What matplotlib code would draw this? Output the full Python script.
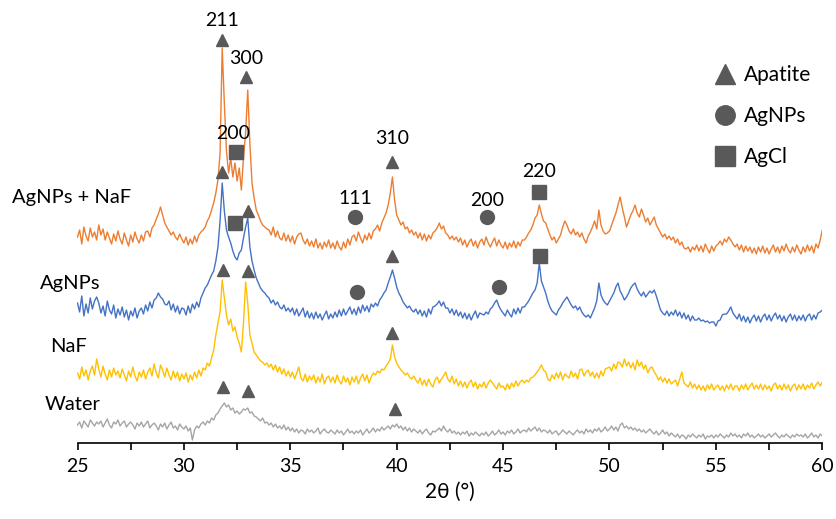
import numpy as np
import matplotlib.pyplot as plt
from matplotlib.lines import Line2D
from matplotlib.ticker import MultipleLocator

plt.rcParams['font.family'] = ['Lato', 'DejaVu Sans']

# 2theta grid, 25..60 deg, 0.1 step
two_theta = np.linspace(25, 60, 351)

# stacked intensities (a.u., offset), one row per degree
water = [
    18, 21, 15, 22, 19, 16, 23, 20, 17, 21,
    19, 22, 16, 20, 24, 18, 15, 21, 19, 23,
    17, 20, 22, 16, 19, 21, 18, 14, 20, 17,
    21, 16, 19, 22, 15, 18, 20, 17, 13, 19,
    16, 20, 14, 18, 21, 15, 17, 13, 19, 16,
    14, 17, 12, 15, 3, 13, 17, 15, 19, 21,
    18, 22, 20, 25, 23, 28, 30, 34, 37, 40,
    36, 38, 33, 35, 30, 32, 29, 31, 34, 33,
    35, 30, 31, 27, 26, 24, 22, 25, 20, 21,
    18, 20, 16, 19, 15, 17, 14, 18, 13, 16,
    12, 15, 11, 14, 10, 13, 12, 9, 14, 11,
    13, 10, 12, 15, 9, 12, 14, 11, 10, 13,
    11, 9, 13, 10, 12, 8, 11, 14, 10, 12,
    9, 12, 10, 13, 8, 11, 14, 10, 12, 15,
    11, 14, 12, 16, 13, 15, 17, 14, 18, 16,
    19, 15, 17, 13, 16, 12, 15, 11, 14, 12,
    10, 13, 9, 12, 14, 10, 8, 12, 11, 13,
    15, 12, 17, 13, 11, 14, 10, 12, 9, 11,
    8, 11, 9, 12, 7, 10, 8, 11, 9, 7,
    10, 8, 11, 7, 9, 12, 8, 10, 13, 9,
    11, 8, 12, 10, 13, 9, 11, 14, 10, 12,
    13, 11, 15, 12, 14, 16, 12, 15, 11, 13,
    12, 10, 13, 9, 11, 12, 8, 10, 13, 11,
    9, 12, 10, 8, 11, 13, 10, 12, 9, 14,
    11, 13, 10, 14, 12, 15, 11, 13, 16, 12,
    14, 17, 13, 16, 12, 18, 20, 15, 17, 14,
    16, 13, 15, 12, 14, 11, 13, 10, 12, 14,
    11, 9, 12, 8, 10, 13, 9, 11, 7, 10,
    8, 6, 9, 5, 8, 7, 4, 8, 6, 9,
    7, 5, 8, 6, 9, 4, 7, 6, 8, 5,
    8, 6, 9, 7, 5, 8, 6, 10, 7, 9,
    6, 8, 5, 9, 7, 10, 6, 8, 5, 7,
    9, 6, 8, 5, 7, 9, 6, 8, 10, 7,
    5, 8, 6, 9, 7, 5, 8, 6, 9, 7,
    8, 6, 9, 5, 7, 10, 6, 8, 5, 9,
    7,
]

naf = [
    70, 64, 76, 67, 73, 63, 72, 77, 68, 84,
    74, 66, 77, 69, 63, 73, 66, 75, 68, 72,
    65, 74, 68, 62, 72, 66, 76, 67, 62, 71,
    66, 73, 64, 71, 75, 67, 79, 70, 65, 78,
    73, 66, 75, 68, 63, 72, 65, 71, 62, 69,
    64, 70, 61, 68, 63, 71, 65, 73, 67, 75,
    73, 80, 77, 85, 93, 108, 120, 131, 163, 145,
    128, 118, 124, 112, 116, 106, 100, 91, 120, 161,
    140, 108, 100, 91, 88, 85, 82, 81, 78, 80,
    76, 79, 73, 78, 71, 76, 69, 74, 67, 72,
    66, 71, 64, 70, 76, 65, 62, 69, 61, 67,
    63, 68, 60, 66, 61, 69, 59, 65, 67, 61,
    66, 60, 68, 62, 59, 67, 61, 65, 58, 66,
    61, 67, 59, 65, 69, 62, 68, 60, 66, 70,
    68, 72, 70, 74, 73, 77, 80, 84, 98, 86,
    80, 76, 73, 71, 68, 70, 66, 64, 67, 63,
    60, 65, 58, 63, 57, 64, 59, 56, 63, 66,
    60, 64, 67, 71, 64, 61, 67, 59, 64, 57,
    62, 56, 61, 55, 60, 63, 56, 61, 54, 59,
    56, 61, 55, 60, 63, 60, 57, 54, 60, 56,
    57, 53, 59, 54, 60, 56, 62, 57, 61, 63,
    60, 63, 61, 65, 66, 68, 71, 74, 78, 73,
    71, 64, 62, 68, 64, 70, 65, 71, 63, 69,
    67, 65, 72, 66, 70, 64, 73, 74, 67, 71,
    73, 67, 71, 65, 70, 65, 72, 67, 74, 75,
    76, 72, 79, 74, 81, 80, 76, 84, 77, 81,
    75, 80, 73, 83, 77, 81, 74, 78, 70, 75,
    76, 71, 68, 63, 66, 61, 65, 60, 64, 59,
    61, 63, 57, 64, 71, 60, 58, 56, 61, 55,
    59, 54, 58, 53, 57, 52, 58, 54, 59, 53,
    56, 58, 53, 57, 52, 58, 54, 59, 53, 57,
    57, 52, 58, 54, 59, 53, 57, 60, 54, 58,
    54, 59, 53, 58, 54, 57, 52, 58, 60, 54,
    58, 53, 59, 54, 58, 52, 57, 59, 53, 58,
    54, 59, 53, 58, 55, 60, 54, 58, 61, 57,
    61,
]

agnps = [
    140, 131, 147, 127, 139, 130, 145, 134, 142, 146,
    140, 130, 137, 127, 142, 133, 129, 138, 125, 134,
    128, 136, 126, 133, 123, 132, 127, 135, 125, 132,
    135, 129, 138, 132, 141, 135, 143, 145, 150, 146,
    144, 139, 138, 142, 133, 139, 131, 137, 129, 135,
    134, 128, 137, 130, 139, 134, 141, 136, 145, 150,
    155, 158, 163, 168, 172, 182, 196, 222, 260, 232,
    213, 206, 200, 192, 186, 183, 190, 193, 205, 216,
    225, 196, 182, 173, 165, 160, 155, 152, 150, 147,
    145, 140, 143, 138, 141, 136, 134, 138, 132, 135,
    131, 135, 128, 134, 127, 131, 135, 126, 132, 125,
    130, 124, 131, 125, 129, 123, 128, 132, 124, 129,
    125, 131, 126, 133, 127, 134, 128, 132, 136, 129,
    134, 128, 136, 130, 138, 132, 137, 131, 139, 136,
    140, 137, 143, 146, 150, 153, 160, 166, 173, 165,
    156, 150, 146, 141, 138, 135, 137, 133, 131, 134,
    129, 133, 127, 132, 126, 134, 129, 136, 137, 139,
    142, 137, 141, 135, 135, 130, 134, 128, 133, 127,
    131, 125, 130, 124, 129, 123, 128, 132, 125, 130,
    129, 128, 131, 129, 134, 136, 140, 143, 137, 133,
    130, 127, 133, 129, 126, 134, 129, 135, 130, 136,
    136, 139, 142, 146, 150, 153, 160, 180, 162, 156,
    150, 142, 136, 132, 130, 128, 133, 136, 140, 143,
    146, 142, 138, 135, 137, 133, 136, 131, 128, 126,
    128, 125, 130, 135, 142, 160, 148, 143, 140, 138,
    142, 146, 150, 156, 160, 152, 148, 143, 146, 150,
    155, 158, 160, 154, 150, 147, 151, 146, 149, 152,
    150, 153, 147, 140, 133, 130, 128, 132, 127, 131,
    128, 133, 127, 131, 125, 130, 124, 128, 122, 127,
    123, 123, 125, 122, 123, 121, 122, 120, 121, 121,
    117, 122, 123, 128, 129, 129, 132, 136, 130, 127,
    124, 129, 122, 127, 121, 126, 120, 125, 128, 122,
    127, 121, 126, 129, 123, 128, 122, 127, 130, 124,
    128, 122, 127, 121, 126, 129, 123, 128, 122, 127,
    123, 128, 122, 127, 129, 123, 128, 124, 130, 131,
    133,
]

agnps_naf = [
    206, 213, 199, 216, 207, 202, 215, 206, 211, 203,
    218, 208, 214, 203, 211, 205, 199, 209, 202, 212,
    204, 199, 210, 203, 197, 208, 201, 211, 204, 200,
    208, 202, 211, 212, 206, 215, 218, 224, 229, 236,
    228, 220, 216, 212, 208, 211, 206, 203, 209, 204,
    200, 206, 198, 204, 199, 207, 201, 208, 211, 213,
    216, 222, 226, 233, 240, 250, 263, 290, 395, 340,
    292, 270, 285, 266, 280, 262, 275, 253, 285, 310,
    353, 300, 260, 245, 233, 228, 222, 218, 216, 214,
    213, 208, 216, 206, 212, 205, 203, 210, 202, 208,
    201, 207, 199, 206, 209, 210, 203, 199, 204, 197,
    202, 196, 204, 195, 200, 194, 201, 196, 203, 195,
    200, 194, 202, 196, 193, 201, 195, 204, 198, 206,
    208, 202, 211, 205, 200, 208, 203, 210, 204, 212,
    214, 218, 212, 220, 225, 230, 238, 250, 266, 243,
    228, 223, 218, 221, 214, 216, 210, 213, 208, 211,
    205, 210, 203, 209, 202, 208, 204, 210, 212, 215,
    220, 214, 217, 210, 208, 204, 207, 203, 206, 201,
    205, 198, 203, 196, 201, 204, 197, 202, 195, 201,
    204, 198, 206, 200, 196, 201, 205, 197, 203, 198,
    195, 201, 194, 200, 196, 202, 195, 201, 197, 203,
    203, 206, 210, 213, 218, 225, 228, 238, 229, 222,
    220, 214, 208, 203, 206, 200, 204, 208, 216, 222,
    218, 212, 209, 214, 208, 211, 206, 210, 204, 200,
    207, 211, 216, 222, 214, 233, 218, 212, 209, 210,
    212, 218, 224, 230, 238, 246, 235, 226, 216, 222,
    228, 232, 238, 230, 226, 234, 228, 221, 225, 218,
    222, 226, 218, 214, 210, 206, 209, 204, 207, 203,
    206, 200, 204, 198, 201, 195, 194, 196, 191, 196,
    193, 198, 192, 197, 191, 199, 194, 190, 197, 192,
    197, 199, 202, 198, 204, 201, 206, 203, 199, 196,
    199, 193, 198, 191, 197, 192, 196, 190, 195, 189,
    196, 191, 197, 190, 195, 189, 194, 198, 191, 196,
    190, 197, 192, 199, 193, 190, 196, 191, 198, 193,
    189, 196, 191, 198, 192, 197, 190, 199, 195, 203,
    213,
]

series_names = ['Water', 'NaF', 'AgNPs', 'AgNPs + NaF']
series_colors = ['#A5A5A5', '#FFC000', '#4472C4', '#ED7D31']
# where each trace name sits (right edge of text)
name_x = [26.10, 25.45, 26.10, 27.51]
name_y = [39, 96, 160, 245]

# phase markers
apatite_x = [31.79, 32.92, 39.78, 31.79, 33.01, 39.78, 31.84, 33.01, 39.78, 31.84, 33.01, 39.92]
apatite_y = [403, 366, 281, 271, 232, 187, 173, 172, 110, 56, 52, 34]
agnp_x = [38.04, 44.24, 38.13, 44.81]
agnp_y = [226, 226, 151, 156]
agcl_x = [32.45, 46.69, 32.40, 46.73]
agcl_y = [291, 251, 220, 187]

hkl = ['211', '300', '200', '111', '310', '200', '220']
hkl_x = [31.79, 32.92, 32.31, 38.04, 39.78, 44.24, 46.69]
hkl_y = [423, 385, 310, 244, 305, 243, 272]

mk_color = '#595959'

fig = plt.figure(figsize=(8.37, 5.19), dpi=100)
ax = fig.add_axes([77.5 / 837, 76 / 519, 744.8 / 837, 443 / 519])

for ys, c in zip([water, naf, agnps, agnps_naf], series_colors):
    ax.plot(two_theta, ys, color=c, lw=1.0)

ax.plot(apatite_x, apatite_y, '^', color=mk_color, ms=9, ls='none')
ax.plot(agnp_x, agnp_y, 'o', color=mk_color, ms=10, ls='none')
ax.plot(agcl_x, agcl_y, 's', color=mk_color, ms=10, ls='none')

for t, x, y in zip(hkl, hkl_x, hkl_y):
    ax.text(x, y, t, ha='center', va='center', fontsize=14)

for t, x, y in zip(series_names, name_x, name_y):
    ax.text(x, y, t, ha='right', va='center', fontsize=14.5, clip_on=False)

handles = [
    Line2D([], [], marker='^', color=mk_color, ls='none', ms=14),
    Line2D([], [], marker='o', color=mk_color, ls='none', ms=14),
    Line2D([], [], marker='s', color=mk_color, ls='none', ms=14),
]
ax.legend(handles, ['Apatite', 'AgNPs', 'AgCl'], loc='upper left',
          bbox_to_anchor=(0.83, 0.895), frameon=False, fontsize=15,
          handlelength=1.0, handletextpad=0.4, labelspacing=1.0)

ax.set_xlim(25, 60)
ax.set_ylim(0, 443)
ax.xaxis.set_major_locator(MultipleLocator(5))
ax.xaxis.set_minor_locator(MultipleLocator(2.5))
ax.tick_params(axis='x', which='both', direction='out', length=5, width=1.2,
               labelsize=14, colors='black', pad=6)
ax.set_yticks([])
for s in ['left', 'right', 'top']:
    ax.spines[s].set_visible(False)
ax.spines['bottom'].set_linewidth(1.2)
ax.set_xlabel('2θ (°)', fontsize=15, labelpad=5)

fig.savefig('out.png', dpi=100)
